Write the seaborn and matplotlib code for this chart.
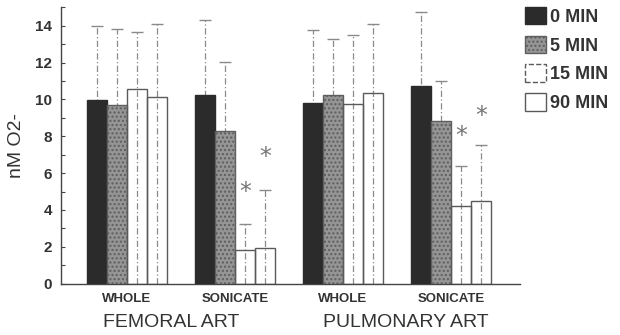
import numpy as np
import pandas as pd
import matplotlib
matplotlib.use("Agg")
import matplotlib.pyplot as plt
import seaborn as sns
from matplotlib.transforms import blended_transform_factory
from matplotlib.ticker import MultipleLocator
from matplotlib.patches import Patch

# ---------------- data ----------------
groups = ["FEMORAL WHOLE", "FEMORAL SONICATE", "PULMONARY WHOLE", "PULMONARY SONICATE"]
group_tick_labels = ["WHOLE", "SONICATE", "WHOLE", "SONICATE"]
artery_labels = ["FEMORAL ART", "PULMONARY ART"]
artery_label_x = [0.41, 2.58]
times = ["0 MIN", "5 MIN", "15 MIN", "90 MIN"]

mean_0min = [9.97, 10.26, 9.82, 10.71]
mean_5min = [9.68, 8.29, 10.24, 8.84]
mean_15min = [10.56, 1.83, 9.75, 4.23]
mean_90min = [10.15, 1.92, 10.33, 4.49]

upper_0min = [13.98, 14.30, 13.77, 14.72]
upper_5min = [13.80, 12.01, 13.28, 11.02]
upper_15min = [13.64, 3.26, 13.48, 6.40]
upper_90min = [14.10, 5.10, 14.09, 7.51]

star_groups = ["FEMORAL SONICATE", "FEMORAL SONICATE", "PULMONARY SONICATE", "PULMONARY SONICATE"]
star_times = ["15 MIN", "90 MIN", "15 MIN", "90 MIN"]
star_y = [4.95, 6.9, 8.0, 9.1]

means = [mean_0min, mean_5min, mean_15min, mean_90min]
uppers = [upper_0min, upper_5min, upper_15min, upper_90min]

rows = []
for t, m, u in zip(times, means, uppers):
    for g, mv, uv in zip(groups, m, u):
        rows.append({"group": g, "time": t, "value": mv, "upper": uv})
df = pd.DataFrame(rows)

# ---------------- style ----------------
sns.set_style("white")
plt.rcParams["font.family"] = ["Liberation Sans", "DejaVu Sans"]
plt.rcParams["hatch.color"] = "#5e5e5e"
plt.rcParams["hatch.linewidth"] = 1.0

fig = plt.figure(figsize=(6.2, 3.35), dpi=100)
ax = fig.add_axes([61 / 620, 1 - 283.7 / 335, (520 - 61) / 620, (283.7 - 7.3) / 335])

face = ["#2b2b2b", "#959595", "none", "none"]
edge = ["#2b2b2b", "#5e5e5e", "#5a5a5a", "#5a5a5a"]
hatch = [None, "....", None, None]

sns.barplot(data=df, x="group", y="value", hue="time", order=groups,
            hue_order=times, width=0.74, errorbar=None, ax=ax,
            palette=["#2b2b2b", "#959595", "white", "white"], legend=False,
            zorder=3)

err_color = "#8a8a8a"
for i, cont in enumerate(ax.containers):
    t = times[i]
    sub = df[df["time"] == t].set_index("group")
    for j, p in enumerate(cont.patches):
        p.set_facecolor(face[i])
        p.set_edgecolor(edge[i])
        p.set_linewidth(1.0)
        if hatch[i]:
            p.set_hatch(hatch[i])
        xc = p.get_x() + p.get_width() / 2
        up = sub.loc[groups[j], "upper"]
        ax.vlines(xc, 0, up, colors=err_color, linestyles=(0, (5, 2, 1, 2)),
                  lw=0.9, zorder=2)
        ax.plot([xc], [up], marker="_", ms=8, mew=1.0, color=err_color,
                ls="none", zorder=4)

# asterisks
for g, t, yv in zip(star_groups, star_times, star_y):
    i = times.index(t)
    j = groups.index(g)
    p = ax.containers[i].patches[j]
    ax.text(p.get_x() + p.get_width() / 2, yv, "*", ha="center", va="center",
            fontsize=17, color="#777777", family=["DejaVu Sans"])

# axes
ax.set_ylim(0, 15)
ax.set_xlim(-0.61, 3.64)
ax.yaxis.set_major_locator(MultipleLocator(2))
ax.yaxis.set_minor_locator(MultipleLocator(1))
ax.set_yticks(np.arange(0, 15, 2))
ax.tick_params(axis="y", which="both", direction="in", length=3, width=0.8,
               color="#444444", left=True, labelsize=11, pad=6.5)
for lab in ax.get_yticklabels():
    lab.set_fontweight("bold")
    lab.set_color("#333333")
ax.set_xticks(range(len(groups)))
ax.set_xticklabels(group_tick_labels, fontsize=9.5, fontweight="bold", color="#333333")
ax.tick_params(axis="x", length=0, pad=7)
ax.set_xlabel("")
ax.set_ylabel("nM O2-", fontsize=14, color="#333333", labelpad=7)
sns.despine(ax=ax)
for s in ["left", "bottom"]:
    ax.spines[s].set_color("#444444")
    ax.spines[s].set_linewidth(1.0)

trans = blended_transform_factory(ax.transData, ax.transAxes)
for xl, lab in zip(artery_label_x, artery_labels):
    ax.text(xl, -0.142, lab, transform=trans, ha="center", va="center",
            fontsize=14, color="#333333")

# legend
leg_handles = [Patch(facecolor=("white" if face[i] == "none" else face[i]),
                     edgecolor=edge[i], hatch=hatch[i], lw=1.0,
                     linestyle=("--" if i == 2 else "-")) for i in range(4)]
leg = fig.legend(leg_handles, times, loc="upper left",
                 bbox_to_anchor=(525 / 620, 1 - 7 / 335), frameon=False,
                 fontsize=13, handlelength=1.15, handleheight=1.1,
                 handletextpad=0.25, labelspacing=0.55, borderpad=0,
                 borderaxespad=0)
for txt in leg.get_texts():
    txt.set_fontweight("bold")
    txt.set_color("#333333")

fig.savefig("out.png", dpi=100)
